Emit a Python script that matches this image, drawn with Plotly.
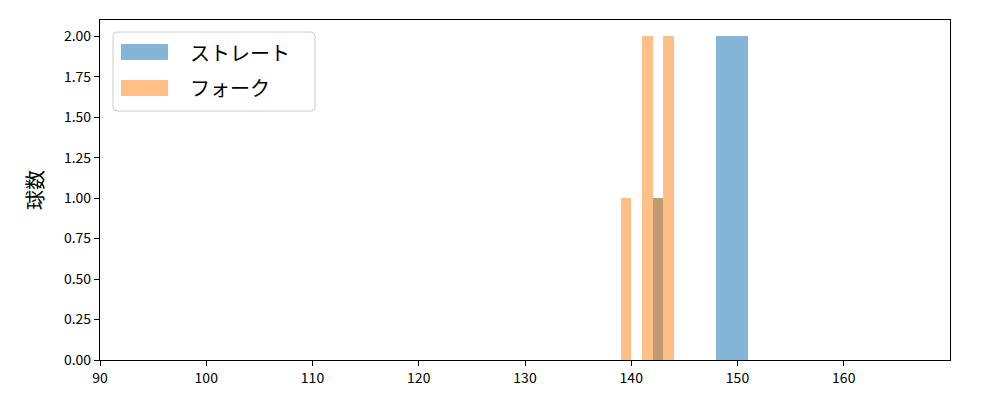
import plotly.graph_objects as go

# Histogram bins (left edges, width 1 km/h) and counts
straight_bins = [142, 148, 149, 150]
straight_counts = [1, 2, 2, 2]
fork_bins = [139, 141, 142, 143]
fork_counts = [1, 2, 1, 2]
bin_width = 1.0

names = ["ストレート", "フォーク"]
colors = ["rgba(31,119,180,0.55)", "rgba(255,127,14,0.5)"]

x_ticks = [90, 100, 110, 120, 130, 140, 150, 160]
y_ticks = [0, 0.25, 0.5, 0.75, 1.0, 1.25, 1.5, 1.75, 2.0]

FONT = "Noto Sans CJK JP, DejaVu Sans, sans-serif"

fig = go.Figure()
for bins, counts, name, color in [
    (straight_bins, straight_counts, names[0], colors[0]),
    (fork_bins, fork_counts, names[1], colors[1]),
]:
    fig.add_trace(go.Bar(
        x=[b + bin_width / 2 for b in bins],
        y=counts,
        width=[bin_width] * len(bins),
        marker=dict(color=color, line=dict(width=0)),
        name=name,
        showlegend=False,
    ))

# Manual legend (matplotlib style)
L, R, T, B = 100, 950, 20, 360
def px(x):
    return (x - L) / (R - L)
def py(y):
    return (B - y) / (B - T)

shapes = []
x0, x1, y0, y1, r = 113, 315, 32, 111, 4
path = (f"M {px(x0+r)},{py(y0)} L {px(x1-r)},{py(y0)} Q {px(x1)},{py(y0)} {px(x1)},{py(y0+r)} "
        f"L {px(x1)},{py(y1-r)} Q {px(x1)},{py(y1)} {px(x1-r)},{py(y1)} "
        f"L {px(x0+r)},{py(y1)} Q {px(x0)},{py(y1)} {px(x0)},{py(y1-r)} "
        f"L {px(x0)},{py(y0+r)} Q {px(x0)},{py(y0)} {px(x0+r)},{py(y0)} Z")
shapes.append(dict(type="path", xref="paper", yref="paper", path=path,
                   fillcolor="rgba(255,255,255,0.8)", line=dict(color="#cccccc", width=1)))
annotations = []
for i, (name, color) in enumerate(zip(names, colors)):
    yt, yb = (44, 60) if i == 0 else (80, 96)
    shapes.append(dict(type="rect", xref="paper", yref="paper",
                       x0=px(121), x1=px(168), y0=py(yb), y1=py(yt),
                       fillcolor=color, line=dict(width=0)))
    annotations.append(dict(xref="paper", yref="paper", x=px(188), y=py((yt + yb) / 2),
                            text=name, showarrow=False, xanchor="left", yanchor="middle",
                            font=dict(family=FONT, size=20, color="#000000")))

# page body has an 8px default margin, so offset the plot margins accordingly
fig.update_layout(
    width=1000, height=400,
    margin=dict(l=92, r=58, t=12, b=48),
    plot_bgcolor="white", paper_bgcolor="white",
    bargap=0, barmode="overlay",
    shapes=shapes, annotations=annotations,
    font=dict(family=FONT, size=14, color="#000000"),
    xaxis=dict(range=[90, 170], tickvals=x_ticks, ticks="outside", ticklen=5, tickwidth=1.2,
               tickcolor="#000", showgrid=False, zeroline=False,
               showline=True, linecolor="#000", linewidth=1.2, mirror=True),
    yaxis=dict(range=[0, 2.1], tickvals=y_ticks, tickformat=".2f", ticks="outside", ticklen=5,
               tickwidth=1.2, tickcolor="#000", showgrid=False, zeroline=False,
               showline=True, linecolor="#000", linewidth=1.2, mirror=True,
               title=dict(text="球数", font=dict(size=20), standoff=14)),
)

fig.write_html("out.html")
